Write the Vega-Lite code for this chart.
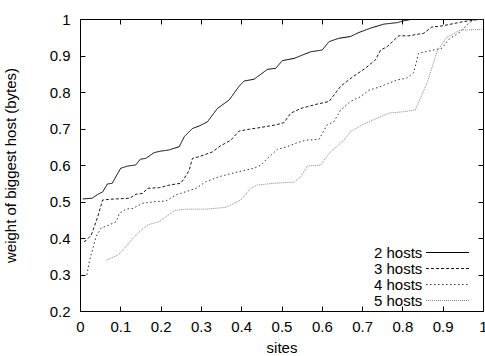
{
  "$schema": "https://vega.github.io/schema/vega-lite/v6.json",
  "width": 403,
  "height": 292,
  "autosize": {"type": "none"},
  "padding": {"left": 80, "top": 19, "right": 2, "bottom": 45},
  "background": "white",
  "config": {
    "view": {"stroke": "black", "strokeWidth": 1},
    "font": "Liberation Sans",
    "axis": {
      "grid": false,
      "domainColor": "black",
      "tickColor": "black",
      "tickSize": -5,
      "labelColor": "black",
      "titleColor": "black",
      "labelFont": "Liberation Sans",
      "titleFont": "Liberation Sans",
      "labelFontSize": 15,
      "titleFontSize": 15,
      "titleFontWeight": "normal",
      "labelFlush": false,
      "labelOverlap": false
    }
  },
  "data": {
    "values": [
      {"series": "2 hosts", "x": 0.007, "y": 0.507},
      {"series": "2 hosts", "x": 0.03, "y": 0.509},
      {"series": "2 hosts", "x": 0.045, "y": 0.52},
      {"series": "2 hosts", "x": 0.056, "y": 0.526},
      {"series": "2 hosts", "x": 0.068, "y": 0.548},
      {"series": "2 hosts", "x": 0.08, "y": 0.55},
      {"series": "2 hosts", "x": 0.09, "y": 0.57},
      {"series": "2 hosts", "x": 0.101, "y": 0.591},
      {"series": "2 hosts", "x": 0.118, "y": 0.597},
      {"series": "2 hosts", "x": 0.138, "y": 0.6},
      {"series": "2 hosts", "x": 0.15, "y": 0.616},
      {"series": "2 hosts", "x": 0.163, "y": 0.618},
      {"series": "2 hosts", "x": 0.184, "y": 0.634},
      {"series": "2 hosts", "x": 0.2, "y": 0.638},
      {"series": "2 hosts", "x": 0.22, "y": 0.641},
      {"series": "2 hosts", "x": 0.246, "y": 0.65},
      {"series": "2 hosts", "x": 0.259, "y": 0.678},
      {"series": "2 hosts", "x": 0.279, "y": 0.7},
      {"series": "2 hosts", "x": 0.296, "y": 0.707},
      {"series": "2 hosts", "x": 0.316, "y": 0.718},
      {"series": "2 hosts", "x": 0.341, "y": 0.755},
      {"series": "2 hosts", "x": 0.37, "y": 0.778},
      {"series": "2 hosts", "x": 0.395, "y": 0.816},
      {"series": "2 hosts", "x": 0.407, "y": 0.83},
      {"series": "2 hosts", "x": 0.432, "y": 0.835},
      {"series": "2 hosts", "x": 0.465, "y": 0.862},
      {"series": "2 hosts", "x": 0.486, "y": 0.865},
      {"series": "2 hosts", "x": 0.502, "y": 0.886},
      {"series": "2 hosts", "x": 0.531, "y": 0.892},
      {"series": "2 hosts", "x": 0.572, "y": 0.91},
      {"series": "2 hosts", "x": 0.601, "y": 0.915},
      {"series": "2 hosts", "x": 0.618, "y": 0.938},
      {"series": "2 hosts", "x": 0.642, "y": 0.947},
      {"series": "2 hosts", "x": 0.671, "y": 0.952},
      {"series": "2 hosts", "x": 0.692, "y": 0.963},
      {"series": "2 hosts", "x": 0.721, "y": 0.975},
      {"series": "2 hosts", "x": 0.754, "y": 0.986},
      {"series": "2 hosts", "x": 0.787, "y": 0.99},
      {"series": "2 hosts", "x": 0.803, "y": 0.995},
      {"series": "2 hosts", "x": 0.828, "y": 1.0},
      {"series": "2 hosts", "x": 1.0, "y": 1.0},

      {"series": "3 hosts", "x": 0.01, "y": 0.39},
      {"series": "3 hosts", "x": 0.015, "y": 0.393},
      {"series": "3 hosts", "x": 0.028, "y": 0.408},
      {"series": "3 hosts", "x": 0.044, "y": 0.458},
      {"series": "3 hosts", "x": 0.056, "y": 0.504},
      {"series": "3 hosts", "x": 0.073, "y": 0.506},
      {"series": "3 hosts", "x": 0.123, "y": 0.509},
      {"series": "3 hosts", "x": 0.139, "y": 0.52},
      {"series": "3 hosts", "x": 0.155, "y": 0.522},
      {"series": "3 hosts", "x": 0.168, "y": 0.536},
      {"series": "3 hosts", "x": 0.197, "y": 0.538},
      {"series": "3 hosts", "x": 0.222, "y": 0.545},
      {"series": "3 hosts", "x": 0.25, "y": 0.55},
      {"series": "3 hosts", "x": 0.259, "y": 0.564},
      {"series": "3 hosts", "x": 0.271, "y": 0.586},
      {"series": "3 hosts", "x": 0.279, "y": 0.618},
      {"series": "3 hosts", "x": 0.296, "y": 0.623},
      {"series": "3 hosts", "x": 0.329, "y": 0.636},
      {"series": "3 hosts", "x": 0.345, "y": 0.65},
      {"series": "3 hosts", "x": 0.374, "y": 0.668},
      {"series": "3 hosts", "x": 0.395, "y": 0.693},
      {"series": "3 hosts", "x": 0.42, "y": 0.698},
      {"series": "3 hosts", "x": 0.444, "y": 0.702},
      {"series": "3 hosts", "x": 0.486, "y": 0.71},
      {"series": "3 hosts", "x": 0.506, "y": 0.716},
      {"series": "3 hosts", "x": 0.523, "y": 0.742},
      {"series": "3 hosts", "x": 0.548, "y": 0.755},
      {"series": "3 hosts", "x": 0.589, "y": 0.767},
      {"series": "3 hosts", "x": 0.618, "y": 0.774},
      {"series": "3 hosts", "x": 0.647, "y": 0.816},
      {"series": "3 hosts", "x": 0.675, "y": 0.84},
      {"series": "3 hosts", "x": 0.708, "y": 0.865},
      {"series": "3 hosts", "x": 0.733, "y": 0.888},
      {"series": "3 hosts", "x": 0.746, "y": 0.915},
      {"series": "3 hosts", "x": 0.762, "y": 0.924},
      {"series": "3 hosts", "x": 0.791, "y": 0.954},
      {"series": "3 hosts", "x": 0.816, "y": 0.954},
      {"series": "3 hosts", "x": 0.853, "y": 0.961},
      {"series": "3 hosts", "x": 0.873, "y": 0.978},
      {"series": "3 hosts", "x": 0.898, "y": 0.981},
      {"series": "3 hosts", "x": 0.952, "y": 0.993},
      {"series": "3 hosts", "x": 0.977, "y": 0.997},
      {"series": "3 hosts", "x": 1.0, "y": 1.0},

      {"series": "4 hosts", "x": 0.017, "y": 0.299},
      {"series": "4 hosts", "x": 0.024, "y": 0.34},
      {"series": "4 hosts", "x": 0.04, "y": 0.404},
      {"series": "4 hosts", "x": 0.052, "y": 0.427},
      {"series": "4 hosts", "x": 0.073, "y": 0.436},
      {"series": "4 hosts", "x": 0.09, "y": 0.445},
      {"series": "4 hosts", "x": 0.098, "y": 0.468},
      {"series": "4 hosts", "x": 0.114, "y": 0.479},
      {"series": "4 hosts", "x": 0.131, "y": 0.481},
      {"series": "4 hosts", "x": 0.155, "y": 0.495},
      {"series": "4 hosts", "x": 0.189, "y": 0.5},
      {"series": "4 hosts", "x": 0.213, "y": 0.501},
      {"series": "4 hosts", "x": 0.238, "y": 0.518},
      {"series": "4 hosts", "x": 0.263, "y": 0.527},
      {"series": "4 hosts", "x": 0.288, "y": 0.536},
      {"series": "4 hosts", "x": 0.312, "y": 0.554},
      {"series": "4 hosts", "x": 0.345, "y": 0.568},
      {"series": "4 hosts", "x": 0.395, "y": 0.582},
      {"series": "4 hosts", "x": 0.432, "y": 0.591},
      {"series": "4 hosts", "x": 0.449, "y": 0.6},
      {"series": "4 hosts", "x": 0.465, "y": 0.618},
      {"series": "4 hosts", "x": 0.49, "y": 0.643},
      {"series": "4 hosts", "x": 0.514, "y": 0.65},
      {"series": "4 hosts", "x": 0.539, "y": 0.661},
      {"series": "4 hosts", "x": 0.56, "y": 0.668},
      {"series": "4 hosts", "x": 0.593, "y": 0.67},
      {"series": "4 hosts", "x": 0.613, "y": 0.71},
      {"series": "4 hosts", "x": 0.63, "y": 0.719},
      {"series": "4 hosts", "x": 0.647, "y": 0.751},
      {"series": "4 hosts", "x": 0.671, "y": 0.774},
      {"series": "4 hosts", "x": 0.696, "y": 0.787},
      {"series": "4 hosts", "x": 0.717, "y": 0.805},
      {"series": "4 hosts", "x": 0.741, "y": 0.813},
      {"series": "4 hosts", "x": 0.766, "y": 0.824},
      {"series": "4 hosts", "x": 0.787, "y": 0.833},
      {"series": "4 hosts", "x": 0.811, "y": 0.838},
      {"series": "4 hosts", "x": 0.828, "y": 0.853},
      {"series": "4 hosts", "x": 0.84, "y": 0.906},
      {"series": "4 hosts", "x": 0.869, "y": 0.913},
      {"series": "4 hosts", "x": 0.898, "y": 0.92},
      {"series": "4 hosts", "x": 0.915, "y": 0.944},
      {"series": "4 hosts", "x": 0.944, "y": 0.965},
      {"series": "4 hosts", "x": 0.964, "y": 0.988},
      {"series": "4 hosts", "x": 0.977, "y": 0.997},
      {"series": "4 hosts", "x": 1.0, "y": 1.0},

      {"series": "5 hosts", "x": 0.066, "y": 0.34},
      {"series": "5 hosts", "x": 0.094, "y": 0.353},
      {"series": "5 hosts", "x": 0.114, "y": 0.376},
      {"series": "5 hosts", "x": 0.131, "y": 0.399},
      {"series": "5 hosts", "x": 0.147, "y": 0.417},
      {"series": "5 hosts", "x": 0.168, "y": 0.436},
      {"series": "5 hosts", "x": 0.197, "y": 0.445},
      {"series": "5 hosts", "x": 0.213, "y": 0.458},
      {"series": "5 hosts", "x": 0.234, "y": 0.475},
      {"series": "5 hosts", "x": 0.263, "y": 0.479},
      {"series": "5 hosts", "x": 0.312, "y": 0.479},
      {"series": "5 hosts", "x": 0.362, "y": 0.484},
      {"series": "5 hosts", "x": 0.382, "y": 0.495},
      {"series": "5 hosts", "x": 0.399, "y": 0.504},
      {"series": "5 hosts", "x": 0.424, "y": 0.536},
      {"series": "5 hosts", "x": 0.44, "y": 0.545},
      {"series": "5 hosts", "x": 0.481, "y": 0.55},
      {"series": "5 hosts", "x": 0.531, "y": 0.553},
      {"series": "5 hosts", "x": 0.548, "y": 0.568},
      {"series": "5 hosts", "x": 0.564, "y": 0.597},
      {"series": "5 hosts", "x": 0.597, "y": 0.6},
      {"series": "5 hosts", "x": 0.618, "y": 0.632},
      {"series": "5 hosts", "x": 0.655, "y": 0.668},
      {"series": "5 hosts", "x": 0.671, "y": 0.691},
      {"series": "5 hosts", "x": 0.7, "y": 0.71},
      {"series": "5 hosts", "x": 0.737, "y": 0.728},
      {"series": "5 hosts", "x": 0.766, "y": 0.742},
      {"series": "5 hosts", "x": 0.803, "y": 0.746},
      {"series": "5 hosts", "x": 0.832, "y": 0.751},
      {"series": "5 hosts", "x": 0.861, "y": 0.824},
      {"series": "5 hosts", "x": 0.886, "y": 0.911},
      {"series": "5 hosts", "x": 0.91, "y": 0.95},
      {"series": "5 hosts", "x": 0.944, "y": 0.97},
      {"series": "5 hosts", "x": 0.968, "y": 0.97},
      {"series": "5 hosts", "x": 0.997, "y": 0.972}
    ]
  },
  "resolve": {"axis": {"x": "independent", "y": "independent"}},
  "layer": [
    {
      "mark": {"type": "line", "strokeWidth": 1, "clip": true},
      "encoding": {
        "x": {
          "field": "x", "type": "quantitative",
          "scale": {"domain": [0, 1], "nice": false, "zero": false},
          "axis": {
            "orient": "bottom",
            "values": [0, 0.1, 0.2, 0.3, 0.4, 0.5, 0.6, 0.7, 0.8, 0.9, 1],
            "format": "~g",
            "labelPadding": 13.5,
            "title": "sites",
            "titlePadding": 6
          }
        },
        "y": {
          "field": "y", "type": "quantitative",
          "scale": {"domain": [0.2, 1], "nice": false, "zero": false},
          "axis": {
            "orient": "left",
            "values": [0.2, 0.3, 0.4, 0.5, 0.6, 0.7, 0.8, 0.9, 1],
            "format": "~g",
            "labelPadding": 15,
            "title": "weight of biggest host (bytes)",
            "titlePadding": 31
          }
        },
        "color": {
          "field": "series", "type": "nominal",
          "scale": {"domain": ["2 hosts", "3 hosts", "4 hosts", "5 hosts"], "range": ["#000000", "#1a1a1a", "#333333", "#888888"]},
          "legend": {
            "orient": "none",
            "legendX": 279,
            "legendY": 226,
            "title": null,
            "padding": 0,
            "symbolType": "M29.75,0H51.25",
            "symbolSize": 16,
            "symbolStrokeWidth": 1,
            "symbolFillColor": "transparent",
            "labelAlign": "left",
            "labelOffset": 0,
            "labelFontSize": 15,
            "labelFont": "Liberation Sans",
            "labelColor": "black",
            "rowPadding": -4
          }
        },
        "strokeDash": {
          "field": "series", "type": "nominal",
          "scale": {"domain": ["2 hosts", "3 hosts", "4 hosts", "5 hosts"], "range": [[1, 0], [3, 2], [1.5, 2.5], [1, 1]]},
          "legend": {
            "orient": "none",
            "legendX": 279,
            "legendY": 226,
            "title": null,
            "padding": 0,
            "symbolType": "M29.75,0H51.25",
            "symbolSize": 16,
            "symbolStrokeWidth": 1,
            "symbolFillColor": "transparent",
            "labelAlign": "left",
            "labelOffset": 0,
            "labelFontSize": 15,
            "labelFont": "Liberation Sans",
            "labelColor": "black",
            "rowPadding": -4
          }
        }
      }
    },
    {
      "mark": {"type": "point", "opacity": 0},
      "encoding": {
        "x": {
          "field": "x", "type": "quantitative",
          "scale": {"domain": [0, 1], "nice": false, "zero": false},
          "axis": {
            "orient": "top",
            "values": [0, 0.1, 0.2, 0.3, 0.4, 0.5, 0.6, 0.7, 0.8, 0.9, 1],
            "labels": false,
            "title": null
          }
        },
        "y": {
          "field": "y", "type": "quantitative",
          "scale": {"domain": [0.2, 1], "nice": false, "zero": false},
          "axis": {
            "orient": "right",
            "values": [0.2, 0.3, 0.4, 0.5, 0.6, 0.7, 0.8, 0.9, 1],
            "labels": false,
            "title": null
          }
        }
      }
    }
  ]
}
